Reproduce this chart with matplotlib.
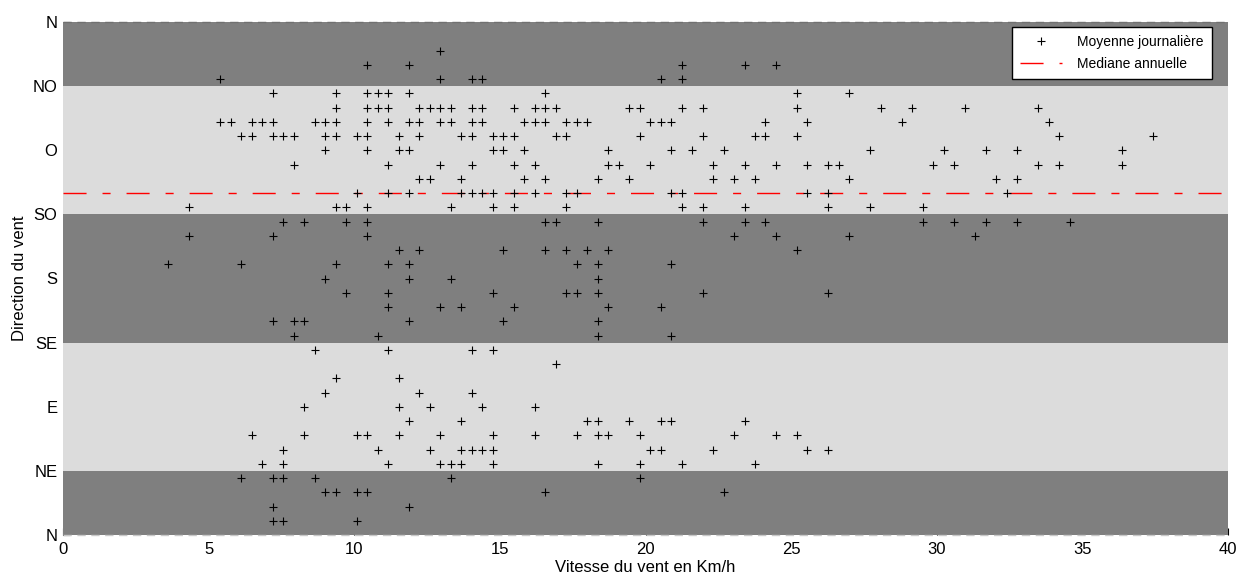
import matplotlib
matplotlib.use("Agg")
import matplotlib.pyplot as plt
from matplotlib.lines import Line2D

plt.rcParams['font.family'] = ['Liberation Sans', 'DejaVu Sans']

# Daily mean wind speed (km/h) grouped by wind direction (degrees)
speeds_by_dir = {
    10: [7.2, 7.56, 10.08],
    20: [7.2, 11.88],
    30: [9.0, 9.36, 10.08, 10.44, 16.56, 22.68],
    40: [6.12, 7.2, 7.56, 8.64, 13.32, 19.8],
    50: [6.84, 7.56, 11.16, 12.96, 13.32, 13.68, 14.76, 18.36, 19.8, 21.24, 23.76],
    60: [7.56, 10.8, 12.6, 13.68, 14.04, 14.4, 14.76, 20.16, 20.52, 22.32, 25.56, 26.28],
    70: [6.48, 8.28, 10.08, 10.44, 11.52, 12.96, 14.76, 16.2, 17.64, 18.36, 18.72, 19.8, 23.04, 24.48, 25.2],
    80: [11.88, 13.68, 18.0, 18.36, 19.44, 20.52, 20.88, 23.4],
    90: [8.28, 11.52, 12.6, 14.4, 16.2],
    100: [9.0, 12.24, 14.04],
    110: [9.36, 11.52],
    120: [16.92],
    130: [8.64, 11.16, 14.04, 14.76],
    140: [7.92, 10.8, 18.36, 20.88],
    150: [7.2, 7.92, 8.28, 11.88, 15.12, 18.36],
    160: [11.16, 12.96, 13.68, 15.48, 18.72, 20.52],
    170: [9.72, 11.16, 14.76, 17.28, 17.64, 18.36, 21.96, 26.28],
    180: [9.0, 11.88, 13.32, 18.36],
    190: [3.6, 6.12, 9.36, 11.16, 11.88, 17.64, 18.36, 20.88],
    200: [11.52, 12.24, 15.12, 16.56, 17.28, 18.0, 18.72, 25.2],
    210: [4.32, 7.2, 10.44, 23.04, 24.48, 27.0, 31.32],
    220: [7.56, 8.28, 9.72, 10.44, 16.56, 16.92, 18.36, 21.96, 23.4, 24.12, 29.52, 30.6, 31.68, 32.76, 34.56],
    230: [4.32, 9.36, 9.72, 10.44, 13.32, 14.76, 15.48, 17.28, 21.24, 21.96, 23.4, 26.28, 27.72, 29.52],
    240: [10.08, 11.16, 11.88, 13.68, 14.04, 14.4, 14.76, 15.48, 16.2, 17.28, 17.64, 20.88, 21.24, 25.56, 26.28, 32.4],
    250: [12.24, 12.6, 13.68, 15.84, 16.56, 18.36, 19.44, 22.32, 23.04, 23.76, 27.0, 32.04, 32.76],
    260: [7.92, 11.16, 12.96, 14.04, 15.48, 16.2, 18.72, 19.08, 20.16, 22.32, 23.4, 24.48, 25.56, 26.28, 26.64,
          29.88, 30.6, 33.48, 34.2, 36.36],
    270: [9.0, 10.44, 11.52, 11.88, 14.76, 15.12, 15.84, 18.72, 20.88, 21.6, 22.68, 27.72, 30.24, 31.68, 32.76, 36.36],
    280: [6.12, 6.48, 7.2, 7.56, 7.92, 9.0, 9.36, 10.08, 10.44, 11.52, 12.24, 13.68, 14.04, 14.76, 15.12, 15.48,
          16.92, 17.28, 19.8, 21.96, 23.76, 24.12, 25.2, 34.2, 37.44],
    290: [5.4, 5.76, 6.48, 6.84, 7.2, 8.64, 9.0, 9.36, 10.44, 11.16, 11.88, 12.24, 12.96, 13.32, 14.04, 14.4,
          15.84, 16.2, 16.56, 17.28, 17.64, 18.0, 20.16, 20.52, 20.88, 24.12, 25.56, 28.8, 33.84],
    300: [9.36, 10.44, 10.8, 11.16, 12.24, 12.6, 12.96, 13.32, 14.04, 14.4, 15.48, 16.2, 16.56, 16.92, 19.44,
          19.8, 21.24, 21.96, 25.2, 28.08, 29.16, 30.96, 33.48],
    310: [7.2, 9.36, 10.44, 10.8, 11.16, 11.88, 16.56, 25.2, 27.0],
    320: [5.4, 12.96, 14.04, 14.4, 20.52, 21.24],
    330: [10.44, 11.88, 21.24, 23.4, 24.48],
    340: [12.96],
}

mediane_annuelle = 240  # degrees

direction_ticks = [0, 45, 90, 135, 180, 225, 270, 315, 360]
direction_labels = ['N', 'NE', 'E', 'SE', 'S', 'SO', 'O', 'NO', 'N']
speed_ticks = [0, 5, 10, 15, 20, 25, 30, 35, 40]

# Background sector bands (dark / light alternating)
band_edges = [0, 45, 135, 225, 315, 360]
band_colors = ['#7f7f7f', '#dcdcdc', '#7f7f7f', '#dcdcdc', '#7f7f7f']

x_vals = []
y_vals = []
for d, sp in speeds_by_dir.items():
    for s in sp:
        x_vals.append(s)
        y_vals.append(d)

fig = plt.figure(figsize=(12.4, 5.75), dpi=100)
ax = fig.add_axes([63 / 1240, 1 - 535 / 575, (1228 - 63) / 1240, (535 - 22) / 575])

for i in range(len(band_colors)):
    ax.axhspan(band_edges[i], band_edges[i + 1], color=band_colors[i], lw=0, zorder=0.6)

# dashed border lines
ax.axhline(360, color='#707070', lw=1.0, ls=(0, (6, 4)), zorder=1.5, clip_on=False)
ax.axhline(0, color='#c8c8c8', lw=1.0, ls=(0, (6, 4)), zorder=1.5, clip_on=False)

med_dash = (0, (16.6, 11.5, 5.8, 11.5))
ax.axhline(mediane_annuelle, color='red', lw=1.0, ls=med_dash, zorder=2)
ax.plot(x_vals, y_vals, ls='none', marker='+', color='black', ms=6.0, mew=0.8, zorder=3)

ax.set_xlim(0, 40)
ax.set_ylim(0, 360)
ax.set_xticks(speed_ticks)
ax.set_yticks(direction_ticks)
ax.set_yticklabels(direction_labels)
ax.set_axisbelow(True)
for sp_ in ax.spines.values():
    sp_.set_visible(False)
ax.tick_params(axis='both', direction='in', length=5, width=0.8, labelsize=12, color='black')
ax.tick_params(axis='y', pad=4)
ax.tick_params(axis='x', pad=5)

ax.set_xlabel('Vitesse du vent en Km/h', fontsize=12, labelpad=2)
ax.set_ylabel('Direction du vent', fontsize=12, labelpad=4)

handles = [
    Line2D([], [], ls='none', marker='+', color='black', ms=6.0, mew=0.8),
    Line2D([], [], color='red', lw=1.0, ls=med_dash),
]
leg = ax.legend(handles, ['Moyenne journalière', 'Mediane annuelle'],
                loc='upper right', bbox_to_anchor=((1212 - 63) / 1165, (535 - 27) / 513),
                borderaxespad=0, fontsize=10, fancybox=False, framealpha=1,
                edgecolor='black', handlelength=3.0, handletextpad=1.1,
                labelspacing=0.55, borderpad=0.6)
leg.get_frame().set_linewidth(1.0)
leg.set_zorder(5)

fig.savefig('out.png', dpi=100)
